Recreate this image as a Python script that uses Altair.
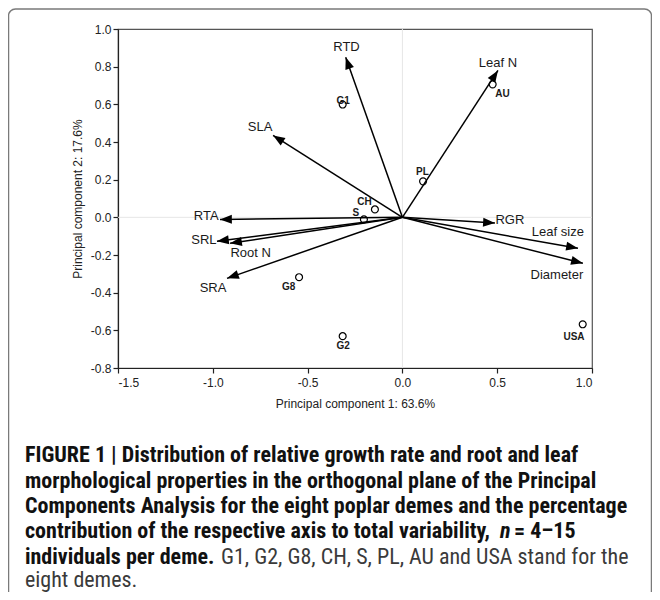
import math
import altair as alt
import pandas as pd

# ---- data ----
traits = ["RTD", "Leaf N", "SLA", "RTA", "SRL", "Root N", "SRA", "RGR", "Leaf size", "Diameter"]
pc1_loading = [-0.299, 0.504, -0.682, -0.962, -0.978, -0.909, -0.925, 0.488, 0.926, 0.952]
pc2_loading = [0.850, 0.780, 0.435, -0.011, -0.127, -0.138, -0.324, -0.030, -0.164, -0.244]
trait_label_x = [-0.295, 0.504, -0.751, -1.035, -1.047, -0.800, -0.999, 0.567, 0.820, 0.815]
trait_label_y = [0.907, 0.822, 0.477, 0.008, -0.119, -0.191, -0.377, -0.013, -0.080, -0.308]

demes = ["G1", "AU", "PL", "CH", "S", "G8", "G2", "USA"]
pc1_score = [-0.315, 0.476, 0.109, -0.145, -0.203, -0.545, -0.315, 0.951]
pc2_score = [0.599, 0.706, 0.191, 0.042, -0.011, -0.318, -0.631, -0.568]
deme_label_x = [-0.313, 0.528, 0.106, -0.200, -0.245, -0.600, -0.313, 0.905]
deme_label_y = [0.616, 0.653, 0.239, 0.080, 0.021, -0.371, -0.682, -0.637]

x_ticks = [-1.5, -1.0, -0.5, 0.0, 0.5, 1.0]
y_ticks = [-0.8, -0.6, -0.4, -0.2, 0.0, 0.2, 0.4, 0.6, 0.8, 1.0]

x_title = "Principal component 1: 63.6%"
y_title = "Principal component 2: 17.6%"

caption_bold = [
    "FIGURE 1 | Distribution of relative growth rate and root and leaf",
    "morphological properties in the orthogonal plane of the Principal",
    "Components Analysis for the eight poplar demes and the percentage",
]
caption_l4a = "contribution of the respective axis to total variability,"
caption_l4n = "n"
caption_l4b = "= 4\u201315"
caption_l5a = "individuals per deme."
caption_l5b = "G1, G2, G8, CH, S, PL, AU and USA stand for the"
caption_l6 = "eight demes."

W, H = 474, 339
XDOM = [-1.5, 1.0]
YDOM = [-0.8, 1.0]
px_x = W / (XDOM[1] - XDOM[0])
px_y = H / (YDOM[1] - YDOM[0])

vec = pd.DataFrame({
    "trait": traits,
    "pc1": pc1_loading,
    "pc2": pc2_loading,
    "lx": trait_label_x,
    "ly": trait_label_y,
})
vec["x0"] = 0.0
vec["y0"] = 0.0
vec["angle"] = [
    math.degrees(math.atan2(a * px_x, b * px_y)) % 360 for a, b in zip(pc1_loading, pc2_loading)
]

pts = pd.DataFrame({
    "deme": demes,
    "pc1": pc1_score,
    "pc2": pc2_score,
    "lx": deme_label_x,
    "ly": deme_label_y,
})

FONT = "Liberation Sans"
CAPFONT = "Roboto Condensed, Roboto"

xs = alt.Scale(domain=XDOM, nice=False, zero=False)
ys = alt.Scale(domain=YDOM, nice=False, zero=False)

label_expr = "(datum.value < 0 ? '-' : '') + format(abs(datum.value), '.1f')"
x_axis = alt.Axis(values=x_ticks, labelExpr=label_expr, title=x_title, grid=False,
                  tickSize=5, labelPadding=4, titlePadding=10, labelOverlap=False)
y_axis = alt.Axis(values=y_ticks, labelExpr=label_expr, title=y_title, grid=False,
                  tickSize=5, labelPadding=2, titlePadding=6, labelOverlap=False)


def X(f):
    return alt.X(f, scale=xs, axis=x_axis)


def Y(f):
    return alt.Y(f, scale=ys, axis=y_axis)


base_vec = alt.Chart(vec)
base_pts = alt.Chart(pts)

frame = alt.Chart(pd.DataFrame({"v": [0]})).mark_rect(
    fillOpacity=0, stroke="#7a7a7a", strokeWidth=1.5, cornerRadius=7, clip=False
).encode(
    x=alt.value(-109.5), x2=alt.value(533.5), y=alt.value(-20), y2=alt.value(580)
)

zero_df = pd.DataFrame({"v": [0.0]})
zero_x = alt.Chart(zero_df).mark_rule(color="#e6e6e6", strokeWidth=1).encode(x=X("v:Q"))
zero_y = alt.Chart(zero_df).mark_rule(color="#e6e6e6", strokeWidth=1).encode(y=Y("v:Q"))

lines = base_vec.mark_rule(color="black", strokeWidth=1.5).encode(
    x=X("x0:Q"), y=Y("y0:Q"), x2="pc1:Q", y2="pc2:Q"
)
heads = base_vec.mark_point(
    shape="M0,0L-0.38,1L0.38,1Z", filled=True, color="black", opacity=1, size=560
).encode(
    x=X("pc1:Q"), y=Y("pc2:Q"),
    angle=alt.Angle("angle:Q", scale=None),
)
vlabels = base_vec.mark_text(font=FONT, fontSize=13, color="#1a1a1a", align="center", baseline="middle").encode(
    x=X("lx:Q"), y=Y("ly:Q"), text="trait:N"
)

circles = base_pts.mark_point(shape="circle", filled=False, color="black", strokeWidth=1.2, size=48, opacity=1).encode(
    x=X("pc1:Q"), y=Y("pc2:Q")
)
plabels = base_pts.mark_text(font=FONT, fontSize=10, fontWeight="bold", color="#1a1a1a", align="center", baseline="middle").encode(
    x=X("lx:Q"), y=Y("ly:Q"), text="deme:N"
)

CX = -93
line_y = [426, 452, 477, 502, 528, 551]
CAPSIZE = 22


def cap(text, x, y, weight="bold", style="normal", color="#111111"):
    return alt.Chart(pd.DataFrame({"t": [text]})).mark_text(
        font=CAPFONT, fontSize=CAPSIZE, fontWeight=weight, fontStyle=style, color=color,
        align="left", baseline="middle", clip=False
    ).encode(text="t:N", x=alt.value(x), y=alt.value(y))


caps = [cap(t, CX, line_y[i]) for i, t in enumerate(caption_bold)]
caps += [
    cap(caption_l4a, CX, line_y[3]),
    cap(caption_l4n, 382, line_y[3], style="italic"),
    cap(caption_l4b, 396, line_y[3]),
    cap(caption_l5a, CX, line_y[4]),
    cap(caption_l5b, 103, line_y[4], weight="normal", color="#3a3a3a"),
    cap(caption_l6, CX, line_y[5], weight="normal", color="#3a3a3a"),
]

chart = alt.layer(
    frame, zero_x, zero_y, lines, heads, vlabels, circles, plabels, *caps
).properties(
    width=W, height=H,
    autosize=alt.AutoSizeParams(type="none"),
    padding={"left": 110, "top": 21, "right": 60, "bottom": 224},
    background="white",
).configure_view(
    stroke="#555555", strokeWidth=1.2
).configure_axis(
    labelFont=FONT, labelFontSize=12, labelColor="#222222",
    titleFont=FONT, titleFontSize=12, titleFontWeight="normal", titleColor="#222222",
    domainColor="#222222", tickColor="#222222", domainWidth=1.2, tickWidth=1.2,
)

chart.save("out.html", embed_options={"renderer": "svg", "actions": False})
